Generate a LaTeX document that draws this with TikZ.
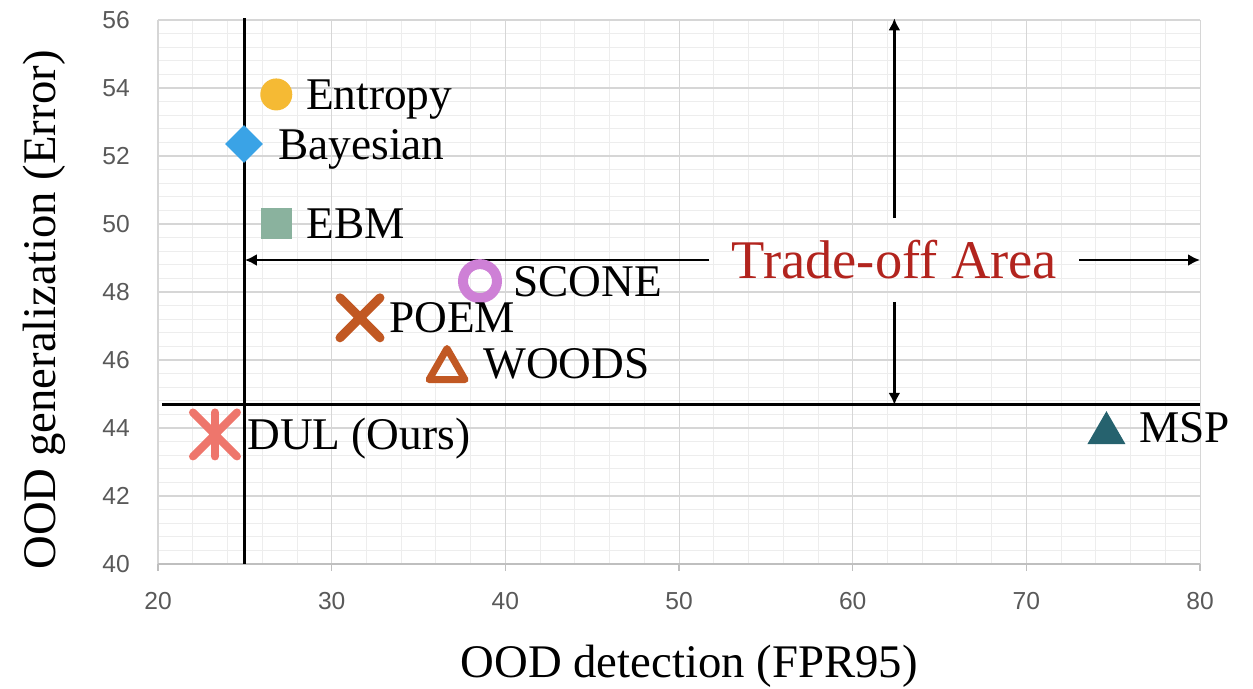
\documentclass[tikz,border=0pt]{standalone}
\usepackage{fontspec}
\setmainfont{Liberation Serif}
\newfontfamily\tickfont{Liberation Sans}
\usetikzlibrary{arrows.meta,positioning,shapes.geometric,shapes.misc}

\definecolor{tickc}{RGB}{89,89,89}
\definecolor{entc}{RGB}{245,186,52}
\definecolor{bayc}{RGB}{58,163,230}
\definecolor{ebmc}{RGB}{138,178,158}
\definecolor{sconec}{RGB}{206,128,214}
\definecolor{woodc}{RGB}{193,88,35}
\definecolor{dulc}{RGB}{238,118,108}
\definecolor{mspc}{RGB}{38,98,110}
\definecolor{tradec}{RGB}{178,36,30}

\begin{document}
\begin{tikzpicture}[
  x=0.34733cm, y=0.68cm,
  minorgrid/.style={draw=black!7,line width=0.5pt},
  majorgrid/.style={draw=black!16,line width=0.6pt},
  axisline/.style={draw=black!25,line width=0.8pt},
  ticklabel/.style={font=\tickfont\fontsize{14}{16}\selectfont,text=tickc,inner sep=0pt},
  axistitle/.style={font=\fontsize{26.6}{30}\selectfont,inner sep=0pt},
  methodlbl/.style={font=\fontsize{25.8}{30}\selectfont,inner sep=0pt,text height=17pt,text depth=0pt},
  bound/.style={line width=0.06cm},
  tradeoff/.style={line width=0.055cm,-{Latex[length=0.24cm,width=0.24cm]}},
  tradelbl/.style={text=tradec,font=\fontsize{31}{36}\selectfont,inner sep=0.44cm},
  entdot/.style={circle,fill=entc,minimum size=0.64cm,inner sep=0pt},
  baydiamond/.style={diamond,fill=bayc,minimum size=0.76cm,inner sep=0pt},
  ebmsquare/.style={rectangle,fill=ebmc,minimum size=0.62cm,inner sep=0pt},
  sconering/.style={circle,draw=sconec,line width=0.2cm,minimum size=0.68cm,inner sep=0pt},
  poemcross/.style={cross out,draw=woodc,line width=0.18cm,line cap=round,minimum size=0.62cm,inner sep=0pt},
  woodstri/.style={regular polygon,regular polygon sides=3,draw=woodc,line width=0.14cm,line join=round,minimum size=0.83cm,inner sep=0pt},
  dulstar/.style={cross out,draw=dulc,line width=0.16cm,line cap=round,minimum size=0.72cm,inner sep=0pt},
  msptri/.style={regular polygon,regular polygon sides=3,fill=mspc,minimum size=0.88cm,inner sep=0pt}
]
  \useasboundingbox (10.902,36.324) rectangle (83.05,56.588);

  % grid
  \foreach \gx in {20,22,...,80} \draw[minorgrid] (\gx,40) -- (\gx,56);
  \foreach \k in {0,...,40} \draw[minorgrid] (20,40+0.4*\k) -- (80,40+0.4*\k);
  \foreach \gx in {20,30,...,80} \draw[majorgrid] (\gx,40) -- (\gx,56);
  \foreach \gy in {42,44,...,56} \draw[majorgrid] (20,\gy) -- (80,\gy);
  \draw[axisline] (20,40) -- (80,40);

  % ticks
  \foreach \gx in {20,30,...,80} {
    \draw[axisline] (\gx,40) -- (\gx,39.8);
    \node[ticklabel] (xt\gx) at (\gx,38.91) {\gx};
  }
  \foreach \gy in {40,42,...,56}
    \node[ticklabel,anchor=east] (yt\gy) at (18.39,\gy) {\gy};

  \node[axistitle] (xtitle) at (50.58,37.0) {OOD detection (FPR95)};
  \node[axistitle,rotate=90] (ytitle) at (13.44,47.47) {OOD generalization (Error)};

  % bounds
  \coordinate (vtop) at (25,56.05);
  \coordinate (vbot) at (25,40);
  \coordinate (hleft) at (20.23,44.68);
  \coordinate (hright) at (80,44.68);
  \draw[bound] (vbot) -- (vtop);
  \draw[bound] (hleft) -- (hright);

  % trade-off area
  \node[tradelbl] (trade) at (62.4,48.94) {Trade-off Area};
  \draw[tradeoff] (trade.west) -- (trade.west -| vtop);
  \draw[tradeoff] (trade.east) -- (trade.east -| hright);
  \draw[tradeoff] (trade.north) -- (trade.north |- vtop);
  \draw[tradeoff] (trade.south) -- (trade.south |- hleft);

  % methods
  \node[entdot] (ent) at (26.81,53.81) {};
  \node[baydiamond] (bay) at (24.95,52.35) {};
  \node[ebmsquare] (ebm) at (26.85,50.0) {};
  \node[sconering] (scone) at (38.54,48.32) {};
  \node[poemcross] (poem) at (31.63,47.24) {};
  \node[woodstri,yshift=-0.104cm] (woods) at (36.64,45.88) {};
  \node[dulstar] (dul) at (23.28,43.81) {};
  \draw[dulc,line width=0.16cm,line cap=round] (dul.north) -- (dul.south);
  \node[msptri,yshift=-0.11cm] (msp) at (74.61,44.01) {};

  \node[methodlbl,right=0.59cm of ent.center] (entlbl) {Entropy};
  \node[methodlbl,right=0.68cm of bay.center] (baylbl) {Bayesian};
  \node[methodlbl,right=0.58cm of ebm.center] (ebmlbl) {EBM};
  \node[methodlbl,right=0.66cm of scone.center] (sconelbl) {SCONE};
  \node[methodlbl,right=0.58cm of poem.center] (poemlbl) {POEM};
  \node[methodlbl,right=0.72cm of woods.center,yshift=0.104cm] (woodslbl) {WOODS};
  \node[methodlbl,right=0.64cm of dul.center] (dullbl) {DUL (Ours)};
  \node[methodlbl,right=0.65cm of msp.center,yshift=0.11cm] (msplbl) {MSP};
\end{tikzpicture}
\end{document}
